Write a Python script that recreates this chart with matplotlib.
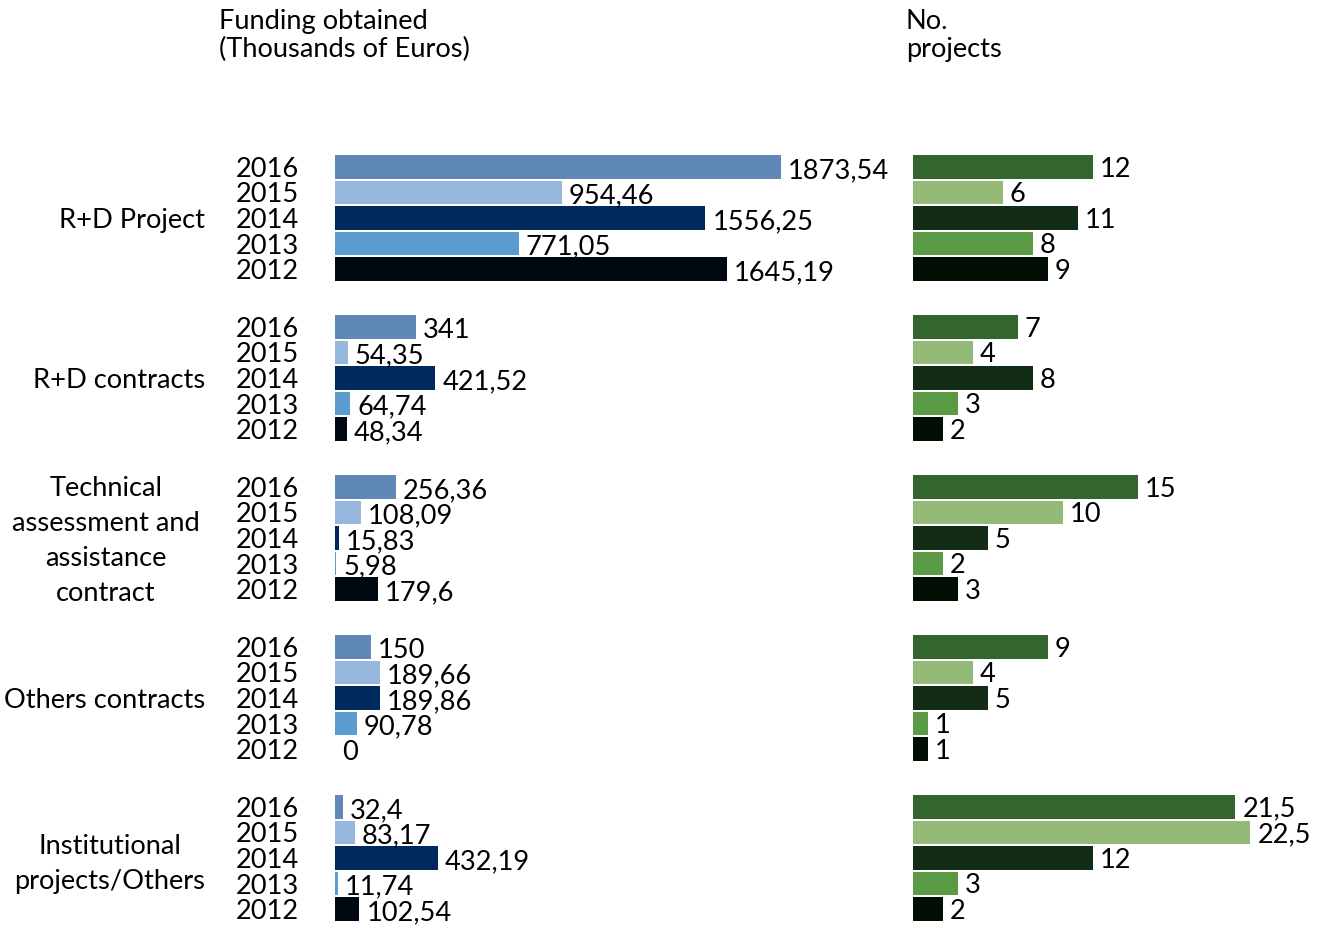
import matplotlib
matplotlib.use("Agg")
import matplotlib.pyplot as plt
from matplotlib import transforms

plt.rcParams['font.family'] = ['Lato', 'DejaVu Sans']

categories = ["R+D Project", "R+D contracts",
              "Technical\nassessment and\nassistance\ncontract",
              "Others contracts", "Institutional\nprojects/Others"]
years = ["2016", "2015", "2014", "2013", "2012"]

# funding (thousands of euros), per category, years 2016..2012
funding = [
    [1873.54, 954.46, 1556.25, 771.05, 1645.19],
    [341, 54.35, 421.52, 64.74, 48.34],
    [256.36, 108.09, 15.83, 5.98, 179.6],
    [150, 189.66, 189.86, 90.78, 0],
    [32.4, 83.17, 432.19, 11.74, 102.54],
]
# number of projects
projects = [
    [12, 6, 11, 8, 9],
    [7, 4, 8, 3, 2],
    [15, 10, 5, 2, 3],
    [9, 4, 5, 1, 1],
    [21.5, 22.5, 12, 3, 2],
]

blue_colors = ["#5F87B8", "#95B8DC", "#002A5E", "#5B9BD0", "#000812"]
green_colors = ["#33652E", "#93BA76", "#132C16", "#5A9A45", "#020E04"]

W, H = 1324, 927
fig = plt.figure(figsize=(W / 100, H / 100), dpi=100)

row_px = 25.5
first_px = 167
group_gap = 160 / row_px
top_px, bot_px = 140, 927
ylim = ((bot_px - first_px) / row_px, (top_px - first_px) / row_px)

scale1 = 0.238  # px per thousand euro
scale2 = 15.0   # px per project
ax1_left, ax1_w = 335, 560
ax2_left, ax2_w = 913, 405
ax1 = fig.add_axes([ax1_left / W, 1 - bot_px / H, ax1_w / W, (bot_px - top_px) / H])
ax2 = fig.add_axes([ax2_left / W, 1 - bot_px / H, ax2_w / W, (bot_px - top_px) / H])
ax1.set_xlim(0, ax1_w / scale1)
ax2.set_xlim(0, ax2_w / scale2)

FS = 19.6


def fmt(v):
    return f"{v:g}".replace('.', ',')


ypos_all, ylab_all = [], []
for g in range(len(categories)):
    for r in range(len(years)):
        y = g * group_gap + r
        ypos_all.append(y)
        ylab_all.append(years[r])
        v1 = funding[g][r]
        v2 = projects[g][r]
        ax1.barh(y, v1, height=0.92, color=blue_colors[r])
        ax2.barh(y, v2, height=0.92, color=green_colors[r])
        ax1.annotate(fmt(v1), (v1, y), xytext=(5, -2.5), textcoords='offset points',
                     ha='left', va='center', fontsize=FS)
        ax2.annotate(fmt(v2), (v2, y), xytext=(5, -1.5), textcoords='offset points',
                     ha='left', va='center', fontsize=FS)

for ax in (ax1, ax2):
    ax.set_ylim(*ylim)
    for s in ax.spines.values():
        s.set_visible(False)
    ax.set_xticks([])
    ax.patch.set_alpha(0)

ax1.set_yticks(ypos_all)
ax1.set_yticklabels(ylab_all, fontsize=FS)
ax1.tick_params(axis='y', length=0, pad=26)
ax2.set_yticks([])

trans = transforms.blended_transform_factory(fig.transFigure, ax1.transData)
cat_shift = [0.1, 0.1, 0.13, 0.1, 0.25]
for g, cat in enumerate(categories):
    yc = g * group_gap + 2 + cat_shift[g]
    if "\n" in cat:
        xc = 106 if g == 2 else 110
        ax1.text(xc / W, yc, cat, transform=trans, ha='center', va='center',
                 multialignment='center', fontsize=FS, linespacing=1.5)
    else:
        ax1.text(205 / W, yc, cat, transform=trans, ha='right', va='center',
                 fontsize=FS)

fig.text(219 / W, 1 - 9 / H, "Funding obtained\n(Thousands of Euros)", ha='left',
         va='top', fontsize=FS, linespacing=1.17)
fig.text(906 / W, 1 - 9 / H, "No.\nprojects", ha='left', va='top', fontsize=FS,
         linespacing=1.17)

fig.savefig("out.png", dpi=100)
